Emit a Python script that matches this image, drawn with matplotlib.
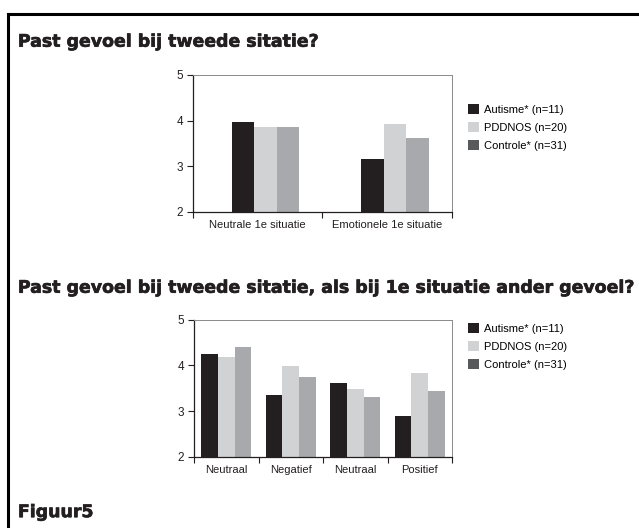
import numpy as np
import matplotlib
matplotlib.use("Agg")
import matplotlib.pyplot as plt
import matplotlib.patheffects as pe
from matplotlib.patches import Patch
from matplotlib.lines import Line2D

# ==========================
# Data
# ==========================
series = ["Autisme* (n=11)", "PDDNOS (n=20)", "Controle* (n=31)"]

cats_1 = ["Neutrale 1e situatie", "Emotionele 1e situatie"]
autisme_1 = [3.96, 3.16]
pddnos_1 = [3.86, 3.93]
controle_1 = [3.86, 3.62]

cats_2 = ["Neutraal", "Negatief", "Neutraal", "Positief"]
autisme_2 = [4.25, 3.35, 3.62, 2.89]
pddnos_2 = [4.18, 3.99, 3.49, 3.84]
controle_2 = [4.41, 3.75, 3.31, 3.44]

y_ticks = [2, 3, 4, 5]

bar_colors = ["#231f20", "#d1d2d4", "#a7a9ac"]
legend_colors = ["#231f20", "#d1d2d4", "#58595b"]

label_font = ["Liberation Sans Narrow", "Liberation Sans", "DejaVu Sans"]
title_font = ["DejaVu Sans"]

fig = plt.figure(figsize=(6.39, 5.28), dpi=100)

# frame (left and top only, cropped box)
fig.add_artist(Line2D([0.012, 0.012], [0.0, 0.974], color="black", lw=2.2,
                      transform=fig.transFigure))
fig.add_artist(Line2D([0.012, 1.0], [0.974, 0.974], color="black", lw=2.2,
                      transform=fig.transFigure))


def draw_panel(rect, cats, groups, bar_w, shift):
    ax = fig.add_axes(rect)
    x = np.arange(len(cats))
    for i, vals in enumerate(groups):
        ax.bar(x + shift + (i - 1) * bar_w, np.array(vals) - 2, width=bar_w,
               bottom=2, color=bar_colors[i], edgecolor="none")
    ax.set_xlim(-0.5, len(cats) - 0.5)
    ax.set_ylim(2, 5)
    ax.set_yticks(y_ticks)
    ax.set_yticklabels([str(t) for t in y_ticks], fontsize=8.5,
                       family=label_font, color="#231f20")
    # category labels at centres, ticks on boundaries
    ax.set_xticks(np.arange(len(cats) + 1) - 0.5)
    ax.set_xticklabels([""] * (len(cats) + 1))
    ax.set_xticks(x, minor=True)
    ax.set_xticklabels(cats, minor=True, fontsize=8, family=label_font,
                       color="#231f20")
    ax.tick_params(axis="x", which="minor", length=0, pad=6)
    ax.tick_params(axis="x", which="major", length=4, width=0.8, color="#231f20")
    ax.tick_params(axis="y", length=4, width=0.8, color="#231f20", pad=3)
    ax.spines["left"].set_color("#231f20")
    ax.spines["bottom"].set_color("#231f20")
    ax.spines["top"].set_color("#8a8a8a")
    ax.spines["right"].set_color("#8a8a8a")
    for s in ["top", "right"]:
        ax.spines[s].set_linewidth(0.7)
    for s in ["left", "bottom"]:
        ax.spines[s].set_linewidth(0.9)
    return ax


draw_panel([0.302, 0.5985, 0.4053, 0.2595], cats_1,
           [autisme_1, pddnos_1, controle_1], 0.175, 0.06)
draw_panel([0.3036, 0.135, 0.4038, 0.2595], cats_2,
           [autisme_2, pddnos_2, controle_2], 0.26, 0.0)

handles = [Patch(facecolor=c, edgecolor="none") for c in legend_colors]
for y in [0.803, 0.388]:
    fig.legend(handles, series, loc="upper left", bbox_to_anchor=(0.733, y),
               frameon=False, prop={"family": label_font, "size": 8},
               handlelength=0.95, handleheight=0.95, handletextpad=0.5,
               labelspacing=0.68, borderaxespad=0, borderpad=0)

heavy = [pe.withStroke(linewidth=0.45, foreground="#231f20")]
title_kw = dict(fontsize=12.5, fontweight="bold", family=title_font,
                va="center", color="#231f20", path_effects=heavy)
fig.text(0.028, 0.921, "Past gevoel bij tweede sitatie?", **title_kw)
fig.text(0.028, 0.455, "Past gevoel bij tweede sitatie, als bij 1e situatie ander gevoel?",
         **title_kw)
fig.text(0.028, 0.03, "Figuur5", **title_kw)

fig.savefig("out.png", dpi=100, facecolor="white")
